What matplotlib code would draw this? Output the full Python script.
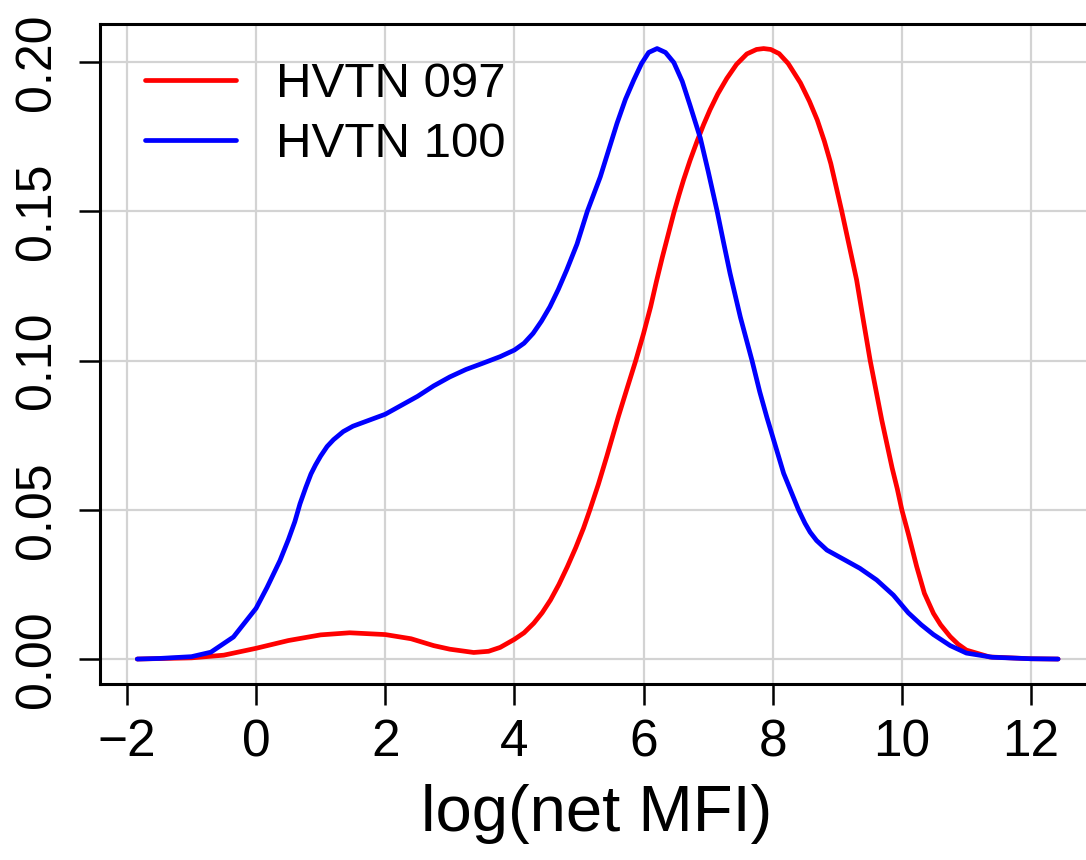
import matplotlib
matplotlib.use("Agg")
import matplotlib.pyplot as plt

plt.rcParams['font.family'] = ['Liberation Sans', 'DejaVu Sans']

# HVTN 100 density (blue)
x100 = [-1.84, -1.5, -1.0, -0.7, -0.35, 0.0, 0.17, 0.37, 0.5, 0.6, 0.68, 0.77, 0.85, 0.92,
        1.0, 1.1, 1.2, 1.35, 1.5, 1.75, 2.0, 2.25, 2.5, 2.75, 3.0, 3.25, 3.5, 3.78, 4.0,
        4.15, 4.29, 4.42, 4.55, 4.68, 4.81, 4.97, 5.13, 5.33, 5.46, 5.59, 5.72, 5.85, 5.97,
        6.08, 6.21, 6.34, 6.47, 6.6, 6.72, 6.88, 7.0, 7.14, 7.24, 7.34, 7.5, 7.68, 7.8,
        7.91, 8.0, 8.17, 8.3, 8.4, 8.5, 8.58, 8.68, 8.84, 9.1, 9.35, 9.61, 9.87, 10.1,
        10.3, 10.49, 10.75, 11.0, 11.4, 12.0, 12.42]
y100 = [0.0, 0.0002, 0.0008, 0.0023, 0.0074, 0.017, 0.024, 0.033, 0.040, 0.046, 0.052,
        0.0575, 0.062, 0.065, 0.068, 0.0712, 0.0735, 0.0762, 0.078, 0.080, 0.082, 0.085,
        0.088, 0.0915, 0.0945, 0.097, 0.099, 0.1013, 0.1035, 0.1058, 0.1091, 0.1132,
        0.118, 0.1238, 0.1303, 0.139, 0.150, 0.1615, 0.1705, 0.1795, 0.1875, 0.194, 0.1995,
        0.2032, 0.2045, 0.2032, 0.1998, 0.1935, 0.1855, 0.1745, 0.1635, 0.150, 0.1395,
        0.1292, 0.1145, 0.100, 0.0895, 0.081, 0.0745, 0.0622, 0.0553, 0.050, 0.0455,
        0.0425, 0.0397, 0.0365, 0.0334, 0.0304, 0.0265, 0.0214, 0.0155, 0.0115, 0.0082,
        0.0045, 0.002, 0.0006, 0.0001, 0.0]

# HVTN 097 density (red)
x097 = [-1.84, -1.0, -0.5, 0.0, 0.5, 1.0, 1.45, 2.0, 2.4, 2.75, 3.0, 3.37, 3.6, 3.78, 4.0,
        4.15, 4.3, 4.43, 4.56, 4.69, 4.82, 4.95, 5.07, 5.17, 5.3, 5.43, 5.52, 5.61, 5.75,
        5.88, 6.0, 6.11, 6.2, 6.29, 6.38, 6.47, 6.55, 6.62, 6.72, 6.83, 6.93, 7.03, 7.15,
        7.29, 7.44, 7.6, 7.75, 7.86, 7.97, 8.1, 8.24, 8.43, 8.57, 8.69, 8.8, 8.9, 8.98,
        9.07, 9.18, 9.3, 9.4, 9.51, 9.6, 9.69, 9.77, 9.85, 9.93, 10.0, 10.1, 10.23, 10.35,
        10.49, 10.6, 10.75, 10.87, 11.0, 11.36, 12.0, 12.42]
y097 = [0.0, 0.0004, 0.0013, 0.0036, 0.0062, 0.0081, 0.0088, 0.0082, 0.0068, 0.0045,
        0.0033, 0.0022, 0.0026, 0.0039, 0.0066, 0.0088, 0.012, 0.0155, 0.0198, 0.025,
        0.0309, 0.0373, 0.0438, 0.050, 0.0585, 0.0678, 0.0745, 0.0812, 0.091, 0.100,
        0.109, 0.118, 0.1265, 0.1345, 0.142, 0.1495, 0.1555, 0.1605, 0.167, 0.1735, 0.179,
        0.184, 0.1893, 0.1945, 0.1992, 0.2027, 0.2042, 0.2045, 0.2042, 0.2028, 0.1995,
        0.193, 0.1868, 0.1806, 0.1735, 0.166, 0.1585, 0.150, 0.139, 0.127, 0.114, 0.100,
        0.090, 0.080, 0.072, 0.064, 0.057, 0.050, 0.042, 0.031, 0.022, 0.0153, 0.0115,
        0.0075, 0.005, 0.003, 0.0007, 0.0001, 0.0]

xticks = [-2, 0, 2, 4, 6, 8, 10, 12]
yticks = [0.00, 0.05, 0.10, 0.15, 0.20]
ytick_labels = ["0.00", "0.05", "0.10", "0.15", "0.20"]
labels = ["HVTN 097", "HVTN 100"]
colors = ["#FF0000", "#0000FF"]

fig = plt.figure(figsize=(10.86, 8.6), dpi=100)
ax = fig.add_axes([0.0925, 0.2052, 1.007 - 0.0925, 0.972 - 0.2052])

for xv in xticks:
    ax.axvline(xv, color="#D3D3D3", lw=1.6, zorder=0)
for yv in yticks:
    ax.axhline(yv, color="#D3D3D3", lw=1.6, zorder=0)

ax.plot(x097, y097, color=colors[0], lw=3.4, label=labels[0],
        solid_capstyle='round', solid_joinstyle='round')
ax.plot(x100, y100, color=colors[1], lw=3.4, label=labels[1],
        solid_capstyle='round', solid_joinstyle='round')

ax.set_xlim(-2.41, 12.97)
ax.set_ylim(-0.0082, 0.2127)
ax.set_xticks(xticks)
ax.set_xticklabels([("\u2212" + str(-v)) if v < 0 else str(v) for v in xticks], fontsize=37)
ax.set_yticks(yticks)
ax.set_yticklabels(ytick_labels, fontsize=36, rotation=90, va='center')
ax.tick_params(axis='both', length=15, width=1.8, direction='out')
ax.tick_params(axis='x', pad=10)
ax.tick_params(axis='y', pad=14)
for s in ax.spines.values():
    s.set_linewidth(2.2)
    s.set_color('black')

ax.set_xlabel("log(net MFI)", fontsize=47, labelpad=12)

leg = ax.legend(loc='upper left', bbox_to_anchor=(0.025, 0.972), frameon=False,
                fontsize=35.5, handlelength=1.85, handletextpad=0.8, labelspacing=0.3,
                borderaxespad=0.0)
for line in leg.get_lines():
    line.set_linewidth(3.4)

fig.savefig("out.png", dpi=100)
